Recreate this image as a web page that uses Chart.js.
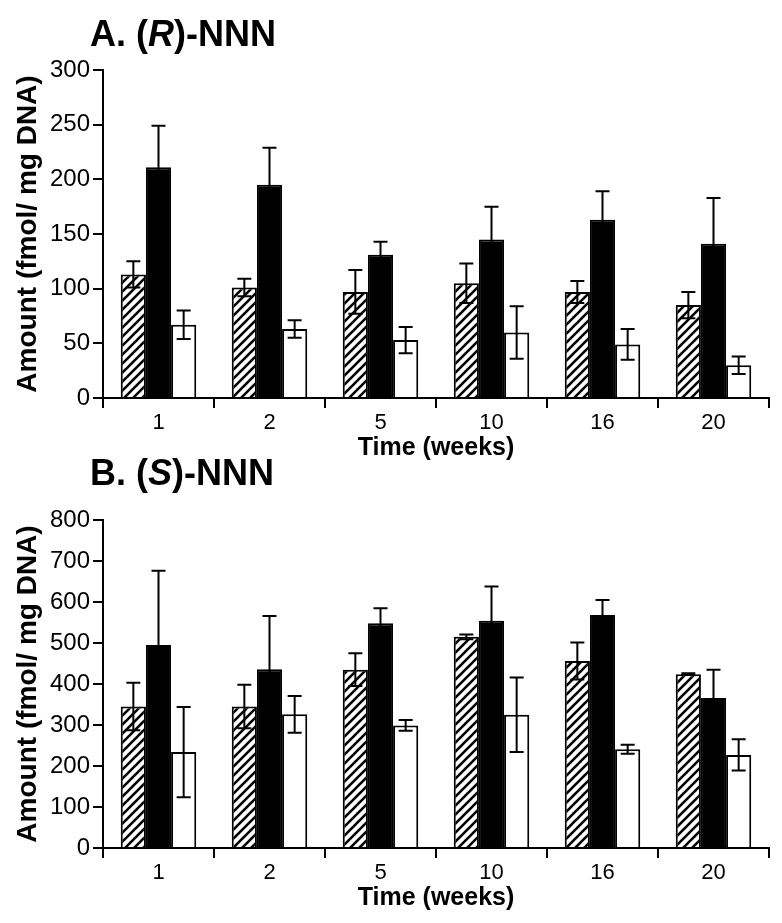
<!DOCTYPE html>
<html>
<head>
<meta charset="utf-8">
<script src="https://cdn.jsdelivr.net/npm/chart.js@4"></script>
<style>
	body { margin: 0; background: #fff; width: 782px; height: 923px; position: relative; overflow: hidden; }
	canvas { position: absolute; left: 0; }
	.panel-title {
		position: absolute;
		left: 90px;
		font: bold 36px "Liberation Sans", Arial, sans-serif;
		line-height: 1;
		color: #000;
		white-space: nowrap;
	}
</style>
</head>
<body>
<canvas id="chartR" width="782" height="480" style="top: 0"></canvas>
<canvas id="chartS" width="782" height="463" style="top: 460px"></canvas>
<div class="panel-title" style="top: 16px">A. (<i>R</i>)-NNN</div>
<div class="panel-title" style="top: 455px">B. (<i>S</i>)-NNN</div>
<script>
const weeks = ["1", "2", "5", "10", "16", "20"];

// panel A, (R)-NNN
const rHatched = [113, 101, 97, 105, 97, 85];
const rHatchedErr = [12, 8, 20, 18, 10, 12];
const rBlack = [211, 195, 131, 145, 163, 141];
const rBlackErr = [38, 34, 12, 30, 26, 42];
const rWhite = [67, 63, 53, 60, 49, 30];
const rWhiteErr = [13, 8, 12, 24, 14, 8];
const rTicks = [0, 50, 100, 150, 200, 250, 300];

// panel B, (S)-NNN
const sHatched = [345, 345, 435, 515, 456, 424];
const sHatchedErr = [58, 53, 40, 6, 45, 2];
const sBlack = [495, 436, 548, 554, 568, 366];
const sBlackErr = [181, 130, 37, 84, 37, 69];
const sWhite = [234, 326, 299, 325, 241, 227];
const sWhiteErr = [110, 45, 13, 91, 11, 38];
const sTicks = [0, 100, 200, 300, 400, 500, 600, 700, 800];

const FONT = "'Liberation Sans', Arial, sans-serif";

function makeHatch() {
	const size = 9;
	const c = document.createElement("canvas");
	c.width = size;
	c.height = size;
	const g = c.getContext("2d");
	g.fillStyle = "#fff";
	g.fillRect(0, 0, size, size);
	g.strokeStyle = "#000";
	g.lineWidth = 2.6;
	g.beginPath();
	g.moveTo(-2, size + 2);
	g.lineTo(size + 2, -2);
	g.moveTo(-2, 2);
	g.lineTo(2, -2);
	g.moveTo(size - 2, size + 2);
	g.lineTo(size + 2, size - 2);
	g.stroke();
	return g.createPattern(c, "repeat");
}

const errorBars = {
	id: "errorBars",
	afterDatasetsDraw(chart) {
		const ctx = chart.ctx;
		const yScale = chart.scales.y;
		const cap = 7;
		ctx.save();
		ctx.strokeStyle = "#000";
		ctx.lineWidth = 2;
		chart.data.datasets.forEach((ds, i) => {
			chart.getDatasetMeta(i).data.forEach((bar, j) => {
				const v = ds.data[j];
				const e = ds.errors[j];
				const top = yScale.getPixelForValue(v + e);
				const bottom = yScale.getPixelForValue(v - e);
				ctx.beginPath();
				ctx.moveTo(bar.x, top);
				ctx.lineTo(bar.x, bottom);
				ctx.moveTo(bar.x - cap, top);
				ctx.lineTo(bar.x + cap, top);
				ctx.moveTo(bar.x - cap, bottom);
				ctx.lineTo(bar.x + cap, bottom);
				ctx.stroke();
			});
		});
		ctx.restore();
	}
};

function buildChart(id, series, ticks, padTop, xHeight, titlePad) {
	const ctx = document.getElementById(id).getContext("2d");
	const hatch = makeHatch();
	const fills = [hatch, "#000", "#fff"];
	const maxValue = ticks[ticks.length - 1];
	const step = ticks[1] - ticks[0];
	return new Chart(ctx, {
		type: "bar",
		data: {
			labels: weeks,
			datasets: series.map((s, i) => ({
				label: s.label,
				data: s.values,
				errors: s.errors,
				backgroundColor: fills[i],
				borderColor: "#000",
				borderWidth: 2,
				borderSkipped: "bottom"
			}))
		},
		plugins: [errorBars],
		options: {
			responsive: false,
			animation: false,
			layout: {
				padding: { top: padTop, right: 13, bottom: 0, left: 0 }
			},
			plugins: {
				legend: { display: false },
				tooltip: { enabled: false }
			},
			datasets: {
				bar: { categoryPercentage: 0.68, barPercentage: 1 }
			},
			scales: {
				x: {
					offset: true,
					afterFit: (scale) => { scale.height = xHeight; },
					border: { display: true, color: "#000", width: 2 },
					grid: {
						offset: true,
						drawOnChartArea: false,
						drawTicks: true,
						tickLength: 10,
						color: "#000",
						lineWidth: 2
					},
					ticks: {
						color: "#000",
						padding: 2,
						font: { family: FONT, size: 22 }
					},
					title: {
						display: true,
						text: "Time (weeks)",
						color: "#000",
						padding: { top: 0, bottom: titlePad },
						font: { family: FONT, size: 25, weight: "bold" }
					}
				},
				y: {
					min: 0,
					max: maxValue,
					afterFit: (scale) => { scale.width = 103; },
					border: { display: true, color: "#000", width: 2 },
					grid: {
						drawOnChartArea: false,
						drawTicks: true,
						tickLength: 10,
						color: "#000",
						lineWidth: 2
					},
					ticks: {
						stepSize: step,
						color: "#000",
						padding: 3,
						font: { family: FONT, size: 24 }
					},
					title: {
						display: true,
						text: "Amount (fmol/ mg DNA)",
						color: "#000",
						padding: { top: 11, bottom: 0 },
						font: { family: FONT, size: 28, weight: "bold" }
					}
				}
			}
		}
	});
}

buildChart("chartR", [
	{ label: "hatched", values: rHatched, errors: rHatchedErr },
	{ label: "black", values: rBlack, errors: rBlackErr },
	{ label: "white", values: rWhite, errors: rWhiteErr }
], rTicks, 70, 82, 17);

buildChart("chartS", [
	{ label: "hatched", values: sHatched, errors: sHatchedErr },
	{ label: "black", values: sBlack, errors: sBlackErr },
	{ label: "white", values: sWhite, errors: sWhiteErr }
], sTicks, 60, 75, 10);
</script>
</body>
</html>
